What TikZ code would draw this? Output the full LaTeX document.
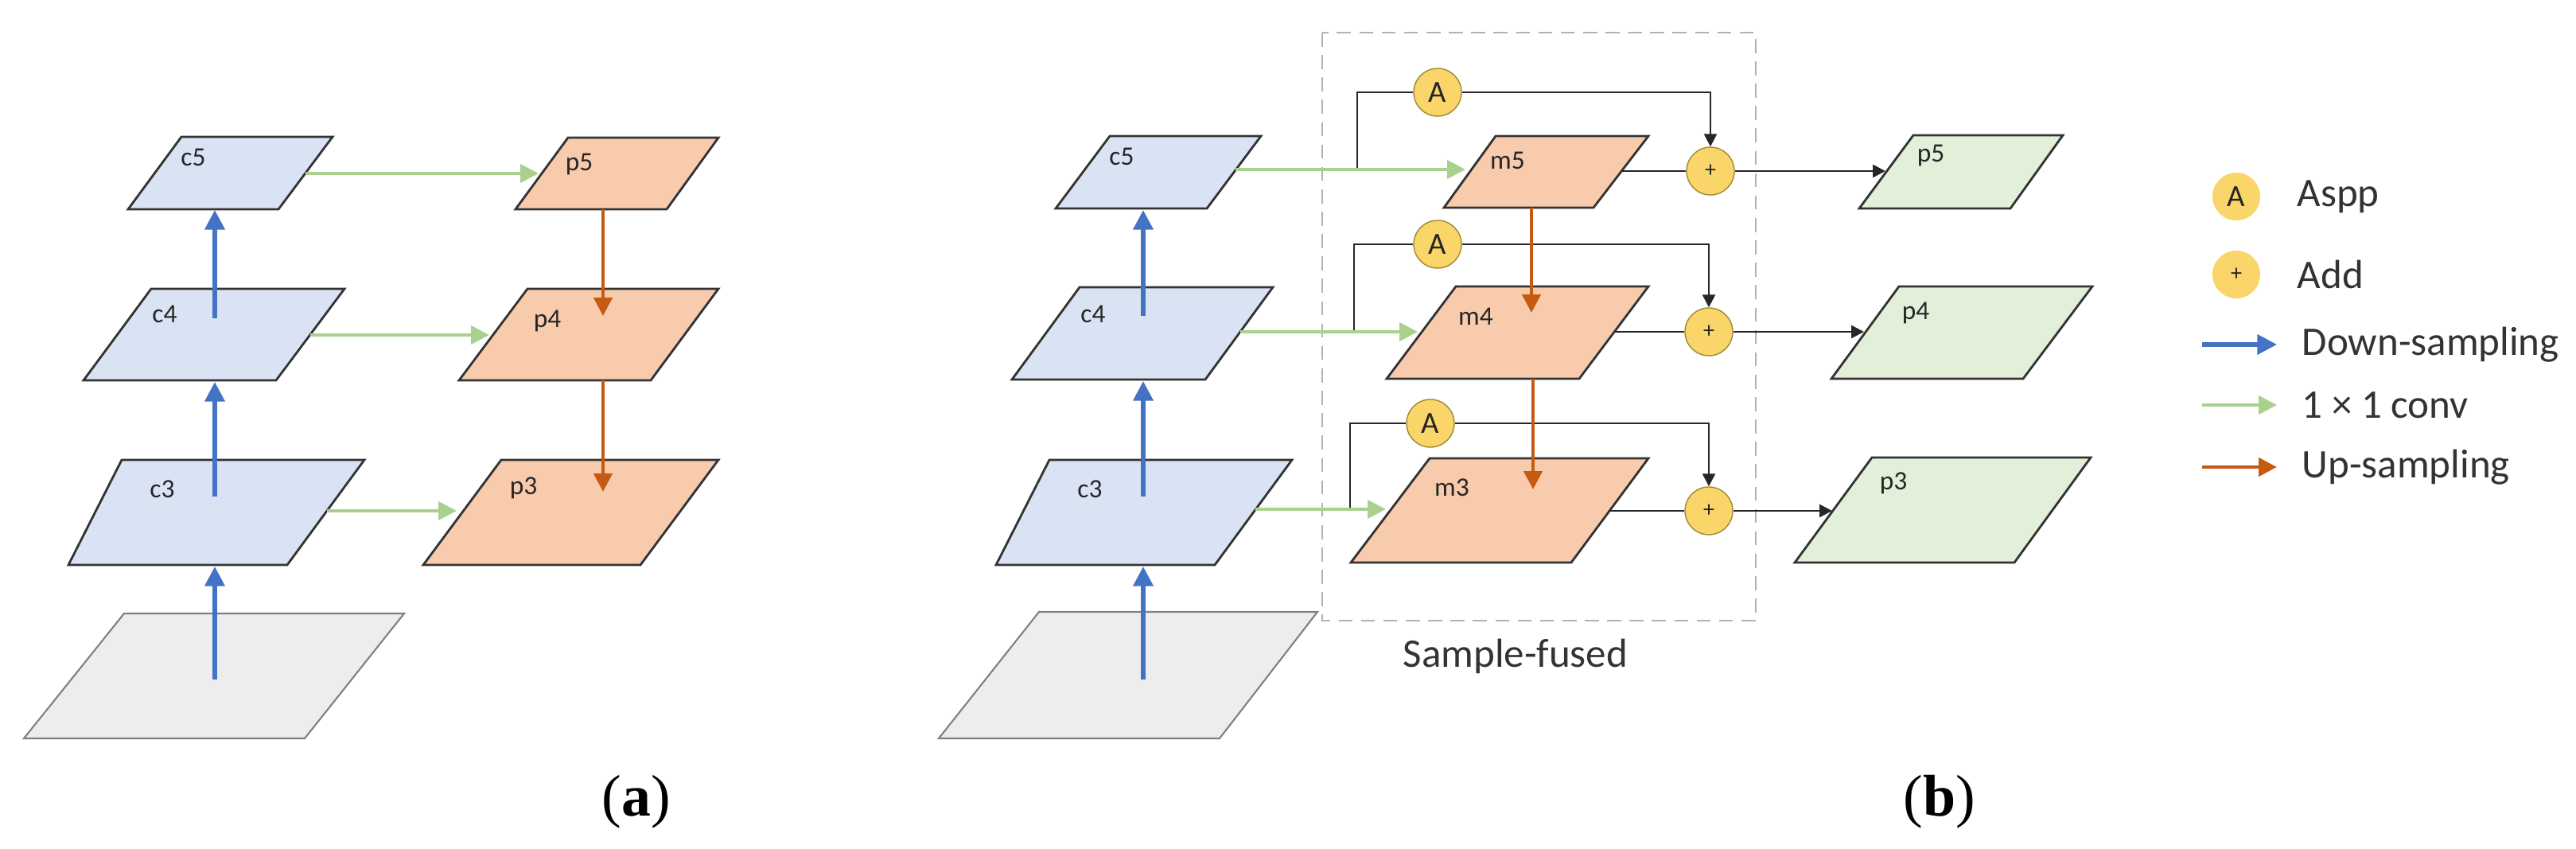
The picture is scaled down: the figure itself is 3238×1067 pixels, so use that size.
\documentclass[tikz,border=0pt]{standalone}
\usepackage{fontspec}
\setmainfont{Carlito}
\newfontfamily\serifont{Liberation Serif}
\usetikzlibrary{arrows.meta}
\definecolor{cblue}{HTML}{DAE3F3}
\definecolor{corange}{HTML}{F8CBAD}
\definecolor{cgreen}{HTML}{E2F0D9}
\definecolor{cgray}{HTML}{EDEDED}
\definecolor{ablue}{HTML}{4472C4}
\definecolor{agreen}{HTML}{A9D18E}
\definecolor{aorange}{HTML}{C55A11}
\definecolor{cyel}{HTML}{F9D56A}
\definecolor{cyeld}{HTML}{A08A30}
\definecolor{txt}{HTML}{262626}
\newcommand\mkplane[7]{\draw[#1] (#2,#7) -- (#3,#7) -- (#5,#6) -- (#4,#6) -- cycle;}
\begin{document}
\begin{tikzpicture}[x=0.01cm,y=-0.01cm,
  plane/.style={draw=black!80,line width=0.8pt,line join=miter},
  pb/.style={plane,fill=cblue},
  po/.style={plane,fill=corange},
  pg/.style={plane,fill=cgreen},
  pgray/.style={draw=black!50,line width=0.6pt,fill=cgray},
  lab/.style={font=\fontsize{9.5}{10}\selectfont,text=txt,inner sep=0pt},
  down/.style={draw=ablue,line width=1.5pt,-{Triangle[length=7pt,width=7pt]}},
  conv/.style={draw=agreen,line width=1.2pt,-{Triangle[length=6.5pt,width=6.5pt]}},
  up/.style={draw=aorange,line width=1.3pt,-{Triangle[length=6.5pt,width=6.5pt]}},
  blk/.style={draw=black!85,line width=0.75pt},
  blka/.style={blk,-{Triangle[length=4.5pt,width=4.5pt]}},
  circ/.style={circle,minimum size=0.6cm,inner sep=0pt,fill=cyel,draw=cyeld,line width=0.4pt,text=txt},
  aspp/.style={circ,font=\fontsize{11}{11}\selectfont},
  add/.style={circ,font=\fontsize{8}{8}\selectfont},
  leg/.style={font=\fontsize{14.5}{15}\selectfont,text=black!80,anchor=west,inner sep=0pt}]
\useasboundingbox (0,0) rectangle (3238,1067);
% ---------------- (a) ----------------
\mkplane{pgray}{30}{383}{156}{508}{771}{928}
\mkplane{pb}{86}{361}{153}{458}{578}{710}
\mkplane{pb}{105}{347}{190}{433}{363}{478}
\mkplane{pb}{161}{350}{228}{418}{172}{263}
\mkplane{po}{532}{805}{630}{903}{578}{710}
\mkplane{po}{577}{818}{663}{903}{363}{478}
\mkplane{po}{648}{838}{714}{903}{173}{263}
\node[lab] (lc5) at (243,198) {c5};
\node[lab] (lc4) at (207,395) {c4};
\node[lab] (lc3) at (204,615) {c3};
\node[lab] (lp5) at (728,206) {p5};
\node[lab] (lp4) at (688,403) {p4};
\node[lab] (lp3) at (658,613) {p3};
\coordinate (ag) at (270,854); \coordinate (ac3b) at (270,712);
\coordinate (ac3) at (270,624); \coordinate (ac4b) at (270,480);
\coordinate (ac4) at (270,400); \coordinate (ac5b) at (270,264);
\draw[down] (ag) -- (ac3b);
\draw[down] (ac3) -- (ac4b);
\draw[down] (ac4) -- (ac5b);
\coordinate (ac5r) at (384,218); \coordinate (ap5l) at (677,218);
\coordinate (ac4r) at (390,421); \coordinate (ap4l) at (615,421);
\coordinate (ac3r) at (411,642); \coordinate (ap3l) at (574,642);
\draw[conv] (ac5r) -- (ap5l);
\draw[conv] (ac4r) -- (ap4l);
\draw[conv] (ac3r) -- (ap3l);
\coordinate (ap5b) at (758,263); \coordinate (ap4t) at (758,397);
\coordinate (ap4b) at (758,478); \coordinate (ap3t) at (758,618);
\draw[up] (ap5b) -- (ap4t);
\draw[up] (ap4b) -- (ap3t);
\node[font=\serifont\fontsize{21}{21}\selectfont,inner sep=0pt] (capa) at (800,1008) {(\textbf{a})};
% ---------------- (b) ----------------
\draw[draw=black!30,line width=0.6pt,dash pattern=on 5pt off 3pt] (1662,41) rectangle (2207,780);
\node[font=\fontsize{14.5}{15}\selectfont,text=black!80,inner sep=0pt] (sf) at (1905,825) {Sample-fused};
\mkplane{pgray}{1180}{1533}{1306}{1656}{769}{928}
\mkplane{pb}{1252}{1527}{1319}{1624}{578}{710}
\mkplane{pb}{1272}{1515}{1357}{1600}{361}{477}
\mkplane{pb}{1327}{1517}{1395}{1585}{171}{262}
\mkplane{po}{1698}{1975}{1797}{2072}{576}{707}
\mkplane{po}{1743}{1985}{1830}{2072}{360}{476}
\mkplane{po}{1815}{2003}{1880}{2072}{171}{261}
\mkplane{pg}{2256}{2532}{2353}{2628}{575}{707}
\mkplane{pg}{2302}{2543}{2387}{2630}{360}{476}
\mkplane{pg}{2337}{2527}{2405}{2593}{170}{262}
\node[lab] (rc5) at (1410,197) {c5};
\node[lab] (rc4) at (1374,395) {c4};
\node[lab] (rc3) at (1370,615) {c3};
\node[lab] (m5) at (1895,202) {m5};
\node[lab] (m4) at (1855,398) {m4};
\node[lab] (m3) at (1825,613) {m3};
\node[lab] (rp5) at (2427,195) {p5};
\node[lab] (rp4) at (2408,393) {p4};
\node[lab] (rp3) at (2380,607) {p3};
% blue
\coordinate (bg) at (1437,854); \coordinate (bc3b) at (1437,712);
\coordinate (bc3) at (1437,624); \coordinate (bc4b) at (1437,479);
\coordinate (bc4) at (1437,397); \coordinate (bc5b) at (1437,264);
\draw[down] (bg) -- (bc3b);
\draw[down] (bc3) -- (bc4b);
\draw[down] (bc4) -- (bc5b);
% circles
\node[aspp] (A1) at (1807,116) {A};
\node[aspp] (A2) at (1807,307) {A};
\node[aspp] (A3) at (1798,532) {A};
\node[add] (S1) at (2150,215) {+};
\node[add] (S2) at (2148,417) {+};
\node[add] (S3) at (2148,642) {+};
% branches to Aspp (drawn under green)
\coordinate (k1) at (1706,213); \coordinate (k2) at (1702,417); \coordinate (k3) at (1697,640);
\draw[blk] (k1) |- (A1.west);
\draw[blk] (k2) |- (A2.west);
\draw[blk] (k3) |- (A3.west);
\draw[blka] (A1.east) -| (S1.north);
\draw[blka] (A2.east) -| (S2.north);
\draw[blka] (A3.east) -| (S3.north);
% green
\coordinate (bc5r) at (1553,213); \coordinate (m5l) at (1842,213);
\coordinate (bc4r) at (1559,417); \coordinate (m4l) at (1782,417);
\coordinate (bc3r) at (1578,640); \coordinate (m3l) at (1742,640);
\draw[conv] (bc5r) -- (m5l);
\draw[conv] (bc4r) -- (m4l);
\draw[conv] (bc3r) -- (m3l);
% orange
\coordinate (m5b) at (1925,261); \coordinate (m4t) at (1925,393);
\coordinate (m4b) at (1927,476); \coordinate (m3t) at (1927,615);
\draw[up] (m5b) -- (m4t);
\draw[up] (m4b) -- (m3t);
% outputs
\coordinate (m5r) at (2038,215); \coordinate (m4r) at (2030,417); \coordinate (m3r) at (2022,642);
\draw[blk] (m5r) -- (S1.west);
\draw[blk] (m4r) -- (S2.west);
\draw[blk] (m3r) -- (S3.west);
\coordinate (p5l) at (2370,215); \coordinate (p4l) at (2343,417); \coordinate (p3l) at (2303,642);
\draw[blka] (S1.east) -- (p5l);
\draw[blka] (S2.east) -- (p4l);
\draw[blka] (S3.east) -- (p3l);
\node[font=\serifont\fontsize{21}{21}\selectfont,inner sep=0pt] (capb) at (2438,1008) {(\textbf{b})};
% legend
\node[aspp,draw=none] (LA) at (2811,247) {A};
\node[add,draw=none] (LS) at (2811,345) {+};
\node[leg] (tA) at (2887,247) {Aspp};
\node[leg] (tS) at (2887,345) {Add};
\coordinate (l1a) at (2768,433); \coordinate (l1b) at (2862,433);
\coordinate (l2a) at (2768,509); \coordinate (l2b) at (2862,509);
\coordinate (l3a) at (2768,587); \coordinate (l3b) at (2862,587);
\draw[down] (l1a) -- (l1b);
\draw[conv] (l2a) -- (l2b);
\draw[up] (l3a) -- (l3b);
\node[leg] (t1) at (2893,433) {Down-sampling};
\node[leg] (t2) at (2893,509) {1 × 1 conv};
\node[leg] (t3) at (2893,587) {Up-sampling};
\end{tikzpicture}
\end{document}
